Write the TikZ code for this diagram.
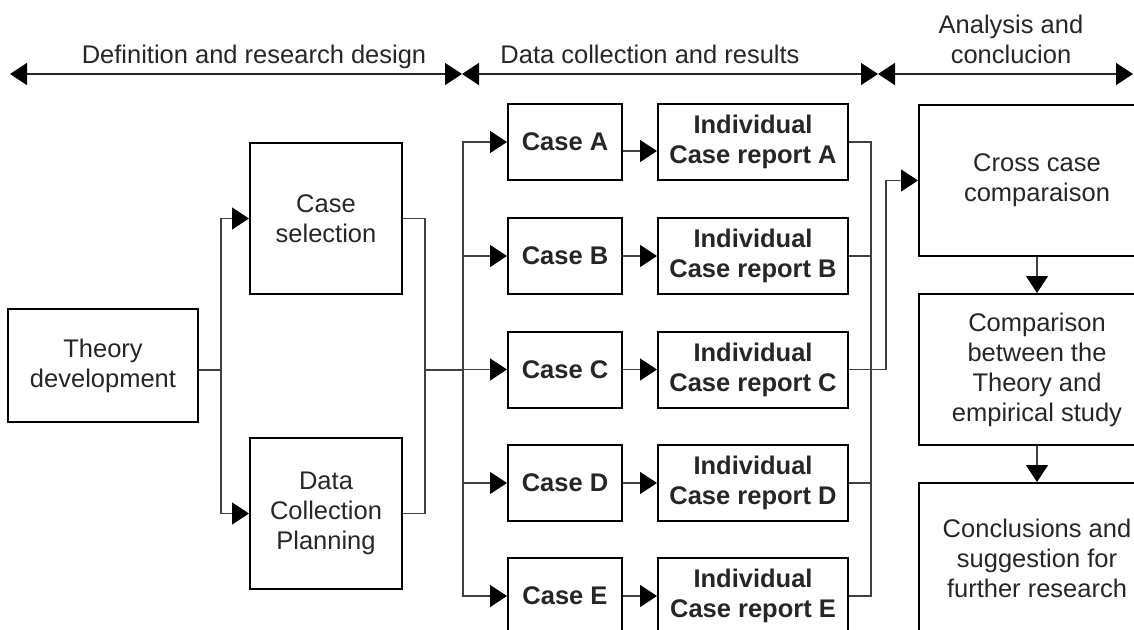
\documentclass[tikz,border=0pt]{standalone}
\usepackage{fontspec}
\setmainfont{Liberation Sans}
\usetikzlibrary{arrows.meta}

\newcommand\boxsize{\fontsize{25.5}{30}\selectfont}

\tikzset{
	box/.style={draw=black, line width=2pt, align=center, inner sep=0pt, text=black!85, font=\boxsize},
	casebox/.style={box, font=\boxsize\bfseries, minimum width=114pt, minimum height=76pt},
	repbox/.style={box, font=\boxsize\bfseries, minimum width=190pt, minimum height=76pt},
	bigbox/.style={box, minimum width=152pt, minimum height=151pt},
	colbox/.style={box, minimum width=236pt, minimum height=151pt},
	link/.style={line width=1.2pt, draw=black!75},
	tip/.style={-{Triangle[length=17pt,width=22pt,color=black]}},
	phase/.style={line width=1.5pt, draw=black!85, {Triangle[length=17pt,width=22pt,color=black]}-{Triangle[length=17pt,width=22pt,color=black]}},
	phaselabel/.style={anchor=base, align=center, text=black!85, font=\boxsize},
}

\begin{document}
\begin{tikzpicture}[x=1pt, y=-1pt]
		\useasboundingbox (0,0) rectangle (1134,629);
		\clip (0,0) rectangle (1134,629);
		
		% Phases
		\coordinate (t0) at (10,74);
		\coordinate (t1) at (462,74);
		\coordinate (t2) at (878,74);
		\coordinate (t3) at (1133,74);
		\draw[phase] (t0) -- (t1);
		\draw[phase] (t1) -- (t2);
		\draw[phase] (t2) -- (t3);
		\node[phaselabel] (design) at (254,63) {Definition and research design};
		\node[phaselabel] (collect) at (650,63) {Data collection and results};
		\node[phaselabel] (analysis) at (1011,63) {Analysis and\\conclucion};
		
		% Definition
		\node[box, minimum width=190pt, minimum height=113pt] (theory) at (103,365.5) {Theory\\development};
		\node[bigbox] (casesel) at (326,218.5) {Case\\selection};
		\node[bigbox] (dcp) at (326,513.5) {Data\\Collection\\Planning};
		
		% Cases and reports
		\node[casebox] (casea) at (565,142) {Case A};
		\node[casebox] (caseb) at (565,256) {Case B};
		\node[casebox] (casec) at (565,369.5) {Case C};
		\node[casebox] (cased) at (565,483) {Case D};
		\node[casebox] (casee) at (565,596) {Case E};
		\node[repbox] (repa) at (753,142) {Individual\\Case report A};
		\node[repbox] (repb) at (753,256) {Individual\\Case report B};
		\node[repbox] (repc) at (753,369.5) {Individual\\Case report C};
		\node[repbox] (repd) at (753,483) {Individual\\Case report D};
		\node[repbox] (repe) at (753,596) {Individual\\Case report E};
		
		% Analysis
		\node[colbox] (cross) at (1037,180.5) {Cross case\\comparaison};
		\node[colbox] (comp) at (1037,369.5) {Comparison\\between the\\Theory and\\empirical study};
		\node[colbox] (concl) at (1037,558.5) {Conclusions and\\suggestion for\\further research};
		
		% Connectors
		\coordinate (jl) at (221,370);
		\coordinate (jr) at (425,370);
		\coordinate (bl) at (463,370);
		\coordinate (br) at (871,370);
		\coordinate (bc) at (886,0);
		
		\draw[link] (theory.east |- jl) -- (jl);
		\draw[link, tip] (jl) |- (casesel.west);
		\draw[link, tip] (jl) |- (dcp.west);
		\draw[link] (casesel.east) -| (jr);
		\draw[link] (dcp.east) -| (jr);
		\draw[link] (jr) -- (bl);
		\foreach \c in {a,b,c,d,e}
			\draw[link, tip] (bl) |- (case\c.west);
		\draw[link, tip] ([yshift=-9pt]casea.east) -- ([yshift=-9pt]repa.west);
		\foreach \c in {b,c,d,e}
			\draw[link, tip] (case\c.east) -- (rep\c.west);
		\foreach \c in {a,b,d,e}
			\draw[link] (rep\c.east) -| (br);
		\draw[link, tip] (repc.east) -| (bc |- cross.west) -- (cross.west);
		\draw[link, tip] (cross.south) -- (comp.north);
		\draw[link, tip] (comp.south) -- (concl.north);
	\end{tikzpicture}
\end{document}
